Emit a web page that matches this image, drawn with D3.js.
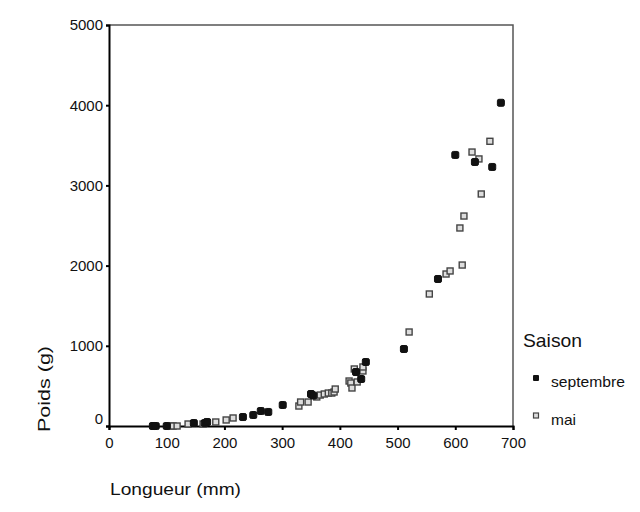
<!DOCTYPE html>
<html>
<head>
<meta charset="utf-8">
<script src="https://cdn.jsdelivr.net/npm/d3@7"></script>
<style>
  body { margin: 0; background: #fff; }
  svg text { font-family: "Liberation Sans", Arial, sans-serif; }
</style>
</head>
<body>
<div id="chart"></div>
<script>
// poids vs longueur, deux saisons
const septembreLongueur = [76, 81, 100, 147, 166, 170, 232, 250, 263, 276, 301, 350, 354, 428, 437, 445, 511, 570, 600, 634, 664, 679];
const septembrePoids = [0, 0, 0, 37, 37, 50, 112, 137, 187, 175, 262, 399, 380, 673, 586, 798, 960, 1833, 3380, 3292, 3230, 4030];

const maiLongueur = [106, 111, 118, 137, 163, 185, 203, 215, 329, 332, 345, 360, 366, 373, 380, 386, 390, 392, 416, 419, 421, 425, 430, 440, 440, 520, 555, 584, 591, 608, 612, 615, 629, 641, 645, 660];
const maiPoids = [0, 0, 0, 25, 25, 50, 75, 100, 249, 299, 299, 362, 386, 399, 411, 411, 424, 461, 561, 536, 474, 711, 549, 686, 736, 1172, 1646, 1895, 1933, 2469, 2007, 2618, 3416, 3330, 2893, 3550];

const xTicks = [0, 100, 200, 300, 400, 500, 600, 700];
const yTicks = [0, 1000, 2000, 3000, 4000, 5000];
const saisons = ["septembre", "mai"];

const W = 640, H = 512;
const mLeft = 109, mRight = 513, mTop = 25, mBottom = 426;

const svg = d3.select("#chart").append("svg").attr("width", W).attr("height", H);

const x = d3.scaleLinear().domain([0, 700]).range([mLeft, mRight]);
const y = d3.scaleLinear().domain([0, 5000]).range([mBottom, mTop]);

// cadre haut/droite
svg.append("path")
  .attr("d", `M${mLeft},${mTop}H${mRight}V${mBottom}`)
  .attr("fill", "none")
  .attr("stroke", "#555")
  .attr("stroke-width", 1.5);

const xAxis = svg.append("g")
  .attr("transform", `translate(0,${mBottom})`)
  .attr("font-family", null)
  .call(d3.axisBottom(x).tickValues(xTicks).tickFormat(d3.format("d")).tickSize(4).tickPadding(7));
xAxis.select(".domain").attr("stroke", "#000").attr("stroke-width", 2);
xAxis.selectAll(".tick line").attr("stroke", "#000").attr("stroke-width", 2);
xAxis.selectAll("text").attr("font-size", 15).attr("fill", "#111");

const yAxis = svg.append("g")
  .attr("transform", `translate(${mLeft},0)`)
  .call(d3.axisLeft(y).tickValues(yTicks).tickFormat(d3.format("d")).tickSize(3).tickPadding(3));
yAxis.select(".domain").attr("stroke", "#000").attr("stroke-width", 2);
yAxis.selectAll(".tick line").attr("stroke", "#000").attr("stroke-width", 2);
yAxis.selectAll("text").attr("font-size", 15).attr("fill", "#111");
// le "0" est decale vers le haut dans l'original
yAxis.selectAll(".tick").filter((d) => d === 0).select("text").attr("dy", "-0.2em");

const sept = septembreLongueur.map((l, i) => ({ l, p: septembrePoids[i] }));
const mai = maiLongueur.map((l, i) => ({ l, p: maiPoids[i] }));

svg.append("g").selectAll("rect").data(mai).join("rect")
  .attr("x", (d) => x(d.l) - 3)
  .attr("y", (d) => y(d.p) - 3)
  .attr("width", 6).attr("height", 6)
  .attr("fill", "#ddd")
  .attr("stroke", "#444")
  .attr("stroke-width", 1.4);

svg.append("g").selectAll("rect").data(sept).join("rect")
  .attr("x", (d) => x(d.l) - 3.5)
  .attr("y", (d) => y(d.p) - 3.5)
  .attr("width", 7).attr("height", 7)
  .attr("rx", 1.5)
  .attr("fill", "#111")
  .attr("stroke", "#111")
  .attr("stroke-width", 1);

// titres (police un peu etiree comme l'original)
svg.append("text")
  .attr("x", 110).attr("y", 495)
  .attr("font-size", 16.5).attr("fill", "#111")
  .attr("textLength", 131).attr("lengthAdjust", "spacingAndGlyphs")
  .text("Longueur (mm)");

svg.append("text")
  .attr("transform", "translate(50,389) rotate(-90)")
  .attr("text-anchor", "middle")
  .attr("font-size", 16.5).attr("fill", "#111")
  .attr("textLength", 86).attr("lengthAdjust", "spacingAndGlyphs")
  .text("Poids (g)");

// legende
const leg = svg.append("g");
leg.append("text").attr("x", 523).attr("y", 347).attr("font-size", 18.5).attr("fill", "#111")
  .attr("textLength", 59).attr("lengthAdjust", "spacingAndGlyphs").text("Saison");
const legLen = { septembre: 74, mai: 25 };
saisons.forEach((s, i) => {
  const cy = 378 + i * 37.5;
  if (s === "septembre") {
    leg.append("rect").attr("x", 533).attr("y", cy - 3).attr("width", 6).attr("height", 6)
      .attr("rx", 1).attr("fill", "#111");
  } else {
    leg.append("rect").attr("x", 533.5).attr("y", cy - 2.5).attr("width", 5).attr("height", 5)
      .attr("fill", "#ddd").attr("stroke", "#444").attr("stroke-width", 1.2);
  }
  leg.append("text").attr("x", 551).attr("y", cy + 9).attr("font-size", 15).attr("fill", "#111")
    .attr("textLength", legLen[s]).attr("lengthAdjust", "spacingAndGlyphs").text(s);
});
</script>
</body>
</html>
